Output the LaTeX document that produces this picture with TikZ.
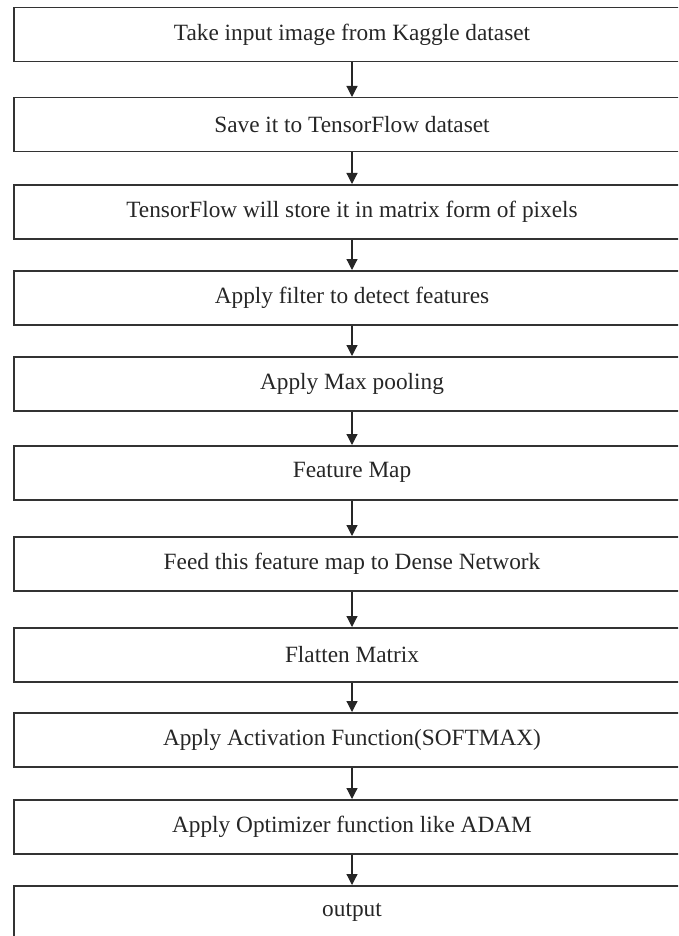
\documentclass[tikz,border=0pt]{standalone}
\usepackage{fontspec}
\setmainfont{Liberation Serif}
\usetikzlibrary{arrows.meta}
\begin{document}
\begin{tikzpicture}[x=1pt,y=-1pt,
  stepbox/.style={draw=black!80, line width=1.5pt, minimum width=676pt, minimum height=54pt,
    inner sep=0pt, anchor=north, font=\fontsize{23.3}{27}\selectfont, text=black!85},
  flow/.style={draw=black!85, line width=1.2pt, -{Triangle[width=11pt,length=11pt]}}]
\useasboundingbox (0,0) rectangle (678,936);
\clip (0,0) rectangle (678,936);
\node[stepbox] (b1) at (352,7) {Take input image from Kaggle dataset};
\node[stepbox] (b2) at (352,97) {Save it to TensorFlow dataset};
\node[stepbox] (b3) at (352,184) {TensorFlow will store it in matrix form of pixels};
\node[stepbox] (b4) at (352,270) {Apply filter to detect features};
\node[stepbox] (b5) at (352,356) {Apply Max pooling};
\node[stepbox] (b6) at (352,445) {Feature Map};
\node[stepbox] (b7) at (352,536) {Feed this feature map to Dense Network};
\node[stepbox] (b8) at (352,627) {Flatten Matrix};
\node[stepbox] (b9) at (352,712) {Apply Activation Function(SOFTMAX)};
\node[stepbox] (b10) at (352,799) {Apply Optimizer function like ADAM};
\node[stepbox] (b11) at (352,885) {output};
\foreach \a/\b in {b1/b2,b2/b3,b3/b4,b4/b5,b5/b6,b6/b7,b7/b8,b8/b9,b9/b10,b10/b11}
  \draw[flow] (\a.south) -- (\b.north);
\end{tikzpicture}
\end{document}
